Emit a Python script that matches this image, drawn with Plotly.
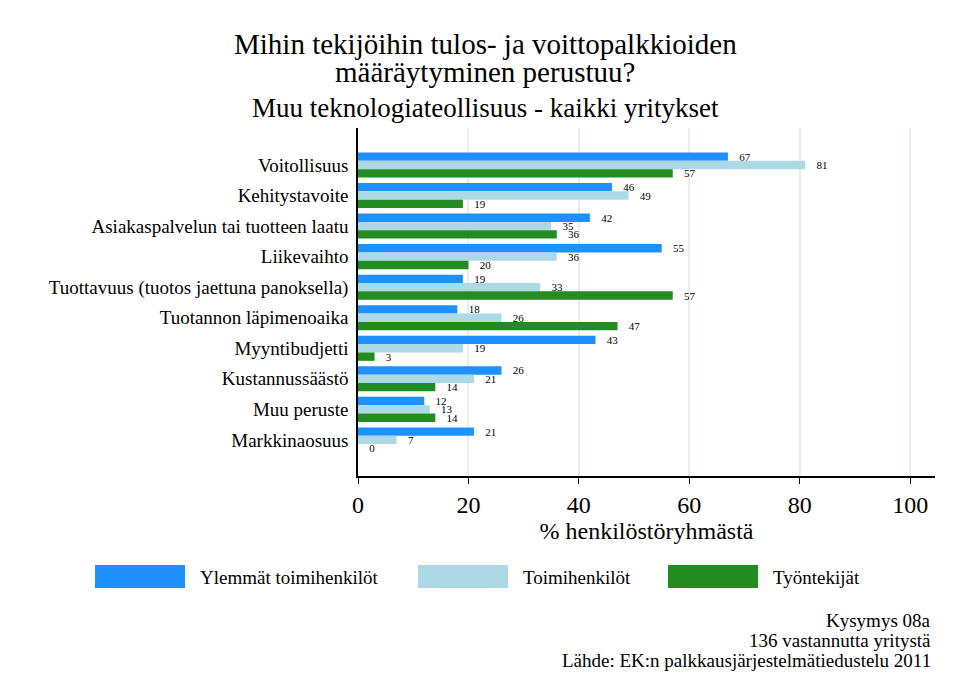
import plotly.graph_objects as go

categories = [
    "Voitollisuus",
    "Kehitystavoite",
    "Asiakaspalvelun tai tuotteen laatu",
    "Liikevaihto",
    "Tuottavuus (tuotos jaettuna panoksella)",
    "Tuotannon läpimenoaika",
    "Myyntibudjetti",
    "Kustannussäästö",
    "Muu peruste",
    "Markkinaosuus",
]
series_names = ["Ylemmät toimihenkilöt", "Toimihenkilöt", "Työntekijät"]
ylemmat = [67, 46, 42, 55, 19, 18, 43, 26, 12, 21]
toimihenkilot = [81, 49, 35, 36, 33, 26, 19, 21, 13, 7]
tyontekijat = [57, 19, 36, 20, 57, 47, 3, 14, 14, 0]
x_ticks = [0, 20, 40, 60, 80, 100]

colors = ["#1E90FF", "#ADD8E6", "#228B22"]
FONT = "Liberation Serif, Times New Roman, serif"

W, H = 960, 697
L, R, T, B = 358, 25, 128, 221
PW, PH = W - L - R, H - T - B


def px(x):
    return (x - L) / PW


def py(y):
    return (H - B - y) / PH


fig = go.Figure()
for name, vals, col in zip(series_names, [ylemmat, toimihenkilot, tyontekijat], colors):
    fig.add_trace(go.Bar(
        x=vals, y=categories, orientation="h", name=name,
        marker=dict(color=col, line=dict(width=0)),
        text=[f"   {v}" for v in vals], textposition="outside",
        constraintext="none",
        textfont=dict(family=FONT, size=11, color="black"),
        cliponaxis=False, showlegend=False,
    ))

fig.update_layout(
    width=W, height=H, autosize=False,
    margin=dict(l=L, r=R, t=T, b=B, pad=0),
    paper_bgcolor="white", plot_bgcolor="white",
    barmode="group", bargap=0.18, bargroupgap=0,
    font=dict(family=FONT, color="black"),
)
fig.update_xaxes(
    range=[0, 104.5], tickvals=x_ticks, ticktext=[str(t) for t in x_ticks],
    showgrid=True, gridcolor="#E6EEF0", gridwidth=2, zeroline=False,
    showline=True, linecolor="black", linewidth=1.5,
    ticks="outside", ticklen=6, tickcolor="black", tickwidth=1,
    tickfont=dict(family=FONT, size=24, color="black"),
    title=dict(text="% henkilöstöryhmästä", font=dict(family=FONT, size=24, color="black"), standoff=0),
)
fig.update_yaxes(
    type="category", categoryorder="array", categoryarray=categories,
    range=[10.18, -1.21], showgrid=False, zeroline=False,
    showline=True, linecolor="black", linewidth=1.5,
    ticks="outside", ticklen=4, tickcolor="rgba(0,0,0,0)",
    tickfont=dict(family=FONT, size=19, color="black"),
)

ann = []
title_lines = [
    ("Mihin tekijöihin tulos- ja voittopalkkioiden", 44, 29),
    ("määräytyminen perustuu?", 72, 29),
    ("Muu teknologiateollisuus - kaikki yritykset", 108, 27),
]
for txt, yy, sz in title_lines:
    ann.append(dict(text=txt, x=px(485), y=py(yy), xref="paper", yref="paper",
                    xanchor="center", yanchor="middle", showarrow=False,
                    font=dict(family=FONT, size=sz, color="black")))

shapes = []
leg_boxes = [95, 418, 668]
for name, col, x0 in zip(series_names, colors, leg_boxes):
    shapes.append(dict(type="rect", xref="paper", yref="paper",
                       x0=px(x0), x1=px(x0 + 90), y0=py(588), y1=py(565),
                       fillcolor=col, line=dict(width=0)))
    ann.append(dict(text=name, x=px(x0 + 103), y=py(577), xref="paper", yref="paper",
                    xanchor="left", yanchor="middle", showarrow=False,
                    font=dict(family=FONT, size=19, color="black")))

notes = [("Kysymys 08a", 620), ("136 vastannutta yritystä", 640),
         ("Lähde: EK:n palkkausjärjestelmätiedustelu 2011", 660)]
for txt, yy in notes:
    ann.append(dict(text=txt, x=px(933), y=py(yy), xref="paper", yref="paper",
                    xanchor="right", yanchor="middle", showarrow=False,
                    font=dict(family=FONT, size=19, color="black")))

fig.update_layout(annotations=ann, shapes=shapes)
fig.write_html("out.html")
